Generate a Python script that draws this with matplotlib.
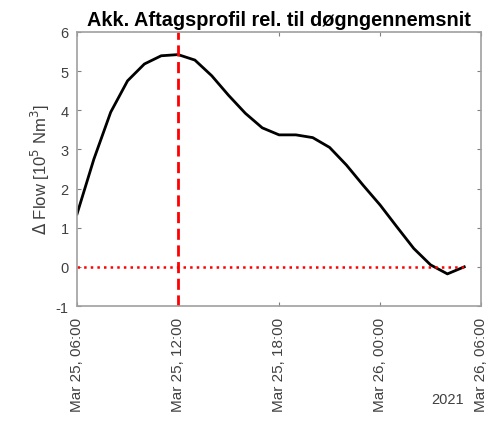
import numpy as np
import matplotlib
matplotlib.use("Agg")
import matplotlib.pyplot as plt
import matplotlib.dates as mdates

plt.rcParams['font.family'] = ['Liberation Sans', 'DejaVu Sans']
plt.rcParams['axes.unicode_minus'] = False

# hourly accumulated profile, Mar 25 06:00 -> Mar 26 05:00
hours = np.arange('2021-03-25T06', '2021-03-26T06', dtype='datetime64[h]')
flow = [1.35, 2.75, 3.95, 4.75, 5.18, 5.39, 5.42, 5.28, 4.88, 4.38,
        3.92, 3.55, 3.37, 3.37, 3.30, 3.05, 2.60, 2.08, 1.58, 1.02,
        0.47, 0.05, -0.18, 0.0]
peak_time = np.datetime64('2021-03-25T12:00')
x_start = np.datetime64('2021-03-25T06:00')
x_end = np.datetime64('2021-03-26T06:00')

times = hours.astype('datetime64[m]').astype(object)

fig = plt.figure(figsize=(4.97, 4.27), dpi=100)
ax = fig.add_axes([0.155, 0.281, 0.813, 0.642])

ax.plot(times, flow, color='black', linewidth=2)
ax.plot([times[0], times[-1]], [0, 0], color='red', linestyle=':', linewidth=1.8)
ax.axvline(peak_time.astype(object), color='red', linestyle=(0, (4, 2)), linewidth=2)

ax.set_xlim(x_start.astype(object), x_end.astype(object))
ax.set_ylim(-1, 6)
ax.set_yticks(range(-1, 7))
ax.xaxis.set_major_locator(mdates.HourLocator(byhour=[0, 6, 12, 18]))
ax.xaxis.set_major_formatter(mdates.DateFormatter('%b %d, %H:%M'))
plt.setp(ax.get_xticklabels(), rotation=90)

ax.tick_params(direction='in', top=True, right=True, colors='#808080',
               labelcolor='#404040', labelsize=10.5, length=3)
ax.tick_params(axis='x', labelsize=11, pad=8)
ax.tick_params(axis='y', pad=6)
for s in ax.spines.values():
    s.set_color('#a0a0a0')
    s.set_linewidth(1.2)

ax.set_ylabel(r'$\Delta$ Flow [10$^5$ Nm$^3$]', fontsize=12, color='#404040',
              labelpad=3)
ax.set_title('Akk. Aftagsprofil rel. til døgngennemsnit', fontsize=14.3,
             fontweight='bold', pad=5)
fig.text(0.9, 0.055, '2021', fontsize=10.5, color='#404040', ha='center')

fig.savefig('out.png', dpi=100)
